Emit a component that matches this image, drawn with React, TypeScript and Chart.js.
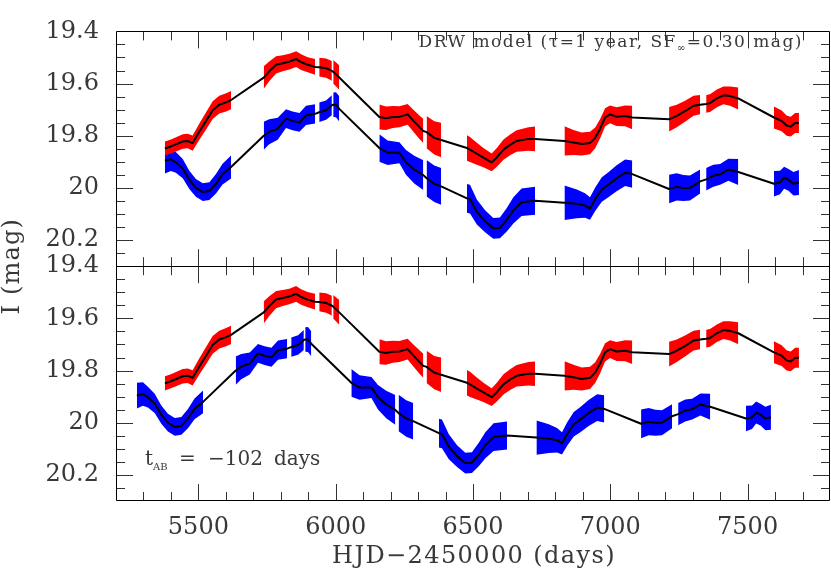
import React, { useEffect, useRef } from 'react';
import { Chart, registerables } from 'chart.js';

Chart.register(...registerables);

// ---------- data ----------
const TAB = -102; // time delay applied to image B in the lower panel (days)
const X_MIN = 5200;
const X_MAX = 7800;
const Y_MIN = 19.4;
const Y_MAX = 20.3;
const X_TICKS = [5500, 6000, 6500, 7000, 7500];
const Y_TICKS = [19.4, 19.6, 19.8, 20, 20.2];

// Image A (red): seasons of [HJD-2450000, I mag (model), half band width]
const SEASONS_A: number[][][] = [
  [[5378, 19.849, 0.027], [5400, 19.841, 0.027], [5443, 19.822, 0.028], [5461, 19.82, 0.028], [5479, 19.828, 0.029], [5503, 19.785, 0.031], [5528, 19.743, 0.033], [5552, 19.702, 0.034], [5576, 19.681, 0.034], [5601, 19.672, 0.035], [5619, 19.663, 0.035]],
  [[5738, 19.577, 0.043], [5758, 19.553, 0.038], [5783, 19.528, 0.033], [5807, 19.522, 0.031], [5831, 19.516, 0.03], [5856, 19.506, 0.03], [5874, 19.518, 0.03], [5898, 19.528, 0.029], [5925, 19.536, 0.03]],
  [[5940, 19.537, 0.036], [5965, 19.541, 0.037], [5986, 19.551, 0.038]],
  [[5991, 19.555, 0.045], [6013, 19.577, 0.047]],
  [[6159, 19.728, 0.048], [6183, 19.733, 0.045], [6208, 19.728, 0.042], [6232, 19.727, 0.04], [6262, 19.718, 0.04], [6280, 19.739, 0.042], [6305, 19.767, 0.045], [6319, 19.782, 0.046]],
  [[6331, 19.786, 0.062], [6359, 19.808, 0.064], [6384, 19.816, 0.066]],
  [[6478, 19.847, 0.049], [6489, 19.853, 0.048], [6514, 19.869, 0.042], [6538, 19.884, 0.037], [6568, 19.902, 0.034], [6586, 19.884, 0.036], [6611, 19.853, 0.039], [6635, 19.835, 0.04], [6659, 19.82, 0.041], [6702, 19.812, 0.045], [6726, 19.812, 0.047]],
  [[6833, 19.82, 0.056], [6866, 19.826, 0.048], [6896, 19.832, 0.044], [6926, 19.828, 0.043], [6945, 19.808, 0.04], [6963, 19.773, 0.037], [6981, 19.73, 0.035], [6999, 19.718, 0.034], [7023, 19.727, 0.036], [7054, 19.724, 0.04], [7080, 19.73, 0.045]],
  [[7214, 19.737, 0.047], [7242, 19.724, 0.043], [7272, 19.706, 0.04], [7303, 19.685, 0.038], [7327, 19.681, 0.037]],
  [[7349, 19.678, 0.034], [7363, 19.675, 0.034], [7388, 19.657, 0.034], [7412, 19.645, 0.034], [7436, 19.648, 0.037], [7466, 19.657, 0.042]],
  [[7596, 19.73, 0.042], [7624, 19.743, 0.04], [7642, 19.761, 0.039], [7657, 19.765, 0.038], [7673, 19.751, 0.038], [7687, 19.751, 0.038]],
];

// Image B (blue): seasons of [HJD-2450000, I mag (model), half band width]
const SEASONS_B: number[][][] = [
  [[5378, 19.896, 0.049], [5400, 19.89, 0.045], [5418, 19.902, 0.04], [5443, 19.926, 0.037], [5467, 19.969, 0.035], [5491, 20.0, 0.034], [5516, 20.016, 0.034], [5540, 20.012, 0.034], [5564, 19.984, 0.037], [5588, 19.947, 0.04], [5619, 19.92, 0.044]],
  [[5738, 19.8, 0.054], [5758, 19.785, 0.048], [5789, 19.773, 0.042], [5819, 19.734, 0.036], [5843, 19.743, 0.036], [5868, 19.749, 0.036], [5892, 19.722, 0.037], [5925, 19.716, 0.037]],
  [[5940, 19.71, 0.037], [5965, 19.702, 0.037], [5986, 19.683, 0.038]],
  [[5991, 19.681, 0.047], [6001, 19.681, 0.048], [6013, 19.697, 0.048]],
  [[6159, 19.847, 0.053], [6189, 19.865, 0.047], [6232, 19.865, 0.04], [6256, 19.902, 0.047], [6286, 19.93, 0.053], [6319, 19.951, 0.057]],
  [[6331, 19.963, 0.07], [6359, 19.984, 0.07], [6384, 19.994, 0.07]],
  [[6478, 20.04, 0.055], [6489, 20.043, 0.055], [6514, 20.092, 0.048], [6544, 20.128, 0.042], [6574, 20.155, 0.04], [6598, 20.153, 0.04], [6623, 20.122, 0.045], [6647, 20.086, 0.05], [6677, 20.055, 0.053], [6726, 20.049, 0.054]],
  [[6833, 20.057, 0.066], [6878, 20.061, 0.055], [6908, 20.067, 0.047], [6926, 20.079, 0.043], [6945, 20.043, 0.045], [6969, 20.006, 0.047], [6993, 19.988, 0.048], [7023, 19.963, 0.05], [7054, 19.942, 0.051], [7080, 19.947, 0.052]],
  [[7214, 20.004, 0.055], [7242, 19.996, 0.052], [7266, 20.0, 0.05], [7290, 20.0, 0.048], [7327, 19.975, 0.046]],
  [[7349, 19.967, 0.043], [7375, 19.953, 0.042], [7400, 19.948, 0.04], [7430, 19.93, 0.042], [7466, 19.939, 0.05]],
  [[7596, 19.984, 0.049], [7618, 19.979, 0.045], [7633, 19.961, 0.042], [7649, 19.969, 0.042], [7667, 19.984, 0.045], [7687, 19.979, 0.048]],
];

const RED = '#ff0000';
const BLUE = '#0000ff';
const FONT = '"DejaVu Serif", "Liberation Serif", serif';
const TEXT_COLOR = '#383838';

function buildDatasets() {
  const ds: any[] = [];
  const addSeries = (seasons: number[][][], shift: number, axis: string, color: string) => {
    seasons.forEach((season) => {
      const upIdx = ds.length;
      ds.push({
        type: 'line',
        yAxisID: axis,
        data: season.map((p) => ({ x: p[0] + shift, y: p[1] - p[2] })),
        borderWidth: 0,
        borderColor: 'rgba(0,0,0,0)',
        pointRadius: 0,
        fill: false,
        order: 2,
      });
      ds.push({
        type: 'line',
        yAxisID: axis,
        data: season.map((p) => ({ x: p[0] + shift, y: p[1] + p[2] })),
        borderWidth: 0,
        borderColor: 'rgba(0,0,0,0)',
        backgroundColor: color,
        pointRadius: 0,
        fill: { target: upIdx },
        order: 2,
      });
    });
    const model: any[] = [];
    seasons.forEach((season) => season.forEach((p) => model.push({ x: p[0] + shift, y: p[1] })));
    ds.push({
      type: 'line',
      yAxisID: axis,
      data: model,
      borderColor: '#000',
      borderWidth: 2,
      borderJoinStyle: 'round',
      pointRadius: 0,
      fill: false,
      order: 0,
    });
  };
  addSeries(SEASONS_A, 0, 'yTop', RED);
  addSeries(SEASONS_B, 0, 'yTop', BLUE);
  addSeries(SEASONS_A, 0, 'yBot', RED);
  addSeries(SEASONS_B, TAB, 'yBot', BLUE);
  return ds;
}

function yScale(weight: number) {
  return {
    type: 'linear',
    position: 'left',
    stack: 'panels',
    stackWeight: 1,
    weight,
    reverse: true,
    min: Y_MIN,
    max: Y_MAX,
    grid: { display: false, drawTicks: false },
    border: { display: false },
    afterBuildTicks: (s: any) => {
      s.ticks = Y_TICKS.map((v) => ({ value: v }));
    },
    afterFit: (s: any) => {
      s.width = 108;
    },
    ticks: {
      autoSkip: false,
      padding: 17,
      color: TEXT_COLOR,
      font: { family: FONT, size: 24 },
      callback: (v: any) => String(Math.round(Number(v) * 10) / 10),
    },
  };
}

function withSpacing(ctx: CanvasRenderingContext2D, px: number) {
  try {
    (ctx as any).letterSpacing = px + 'px';
  } catch (e) {
    /* ignore */
  }
}

const framePlugin = {
  id: 'frameAndText',
  afterDraw(chart: any) {
    const ctx: CanvasRenderingContext2D = chart.ctx;
    const { left, right, top, bottom } = chart.chartArea;
    const xs = chart.scales.x;
    const panels = [chart.scales.yTop, chart.scales.yBot];
    ctx.save();

    // inward ticks
    ctx.strokeStyle = '#333';
    ctx.lineWidth = 1;
    ctx.beginPath();
    panels.forEach((p: any) => {
      for (let k = 1; k < 18; k++) {
        const v = Y_MIN + k * 0.05;
        const len = k % 4 === 0 ? 17 : 9;
        const y = Math.round(p.getPixelForValue(v)) + 0.5;
        ctx.moveTo(left, y);
        ctx.lineTo(left + len, y);
        ctx.moveTo(right, y);
        ctx.lineTo(right - len, y);
      }
      for (let d = X_MIN + 100; d < X_MAX; d += 100) {
        const len = d % 500 === 0 ? 17 : 9;
        const x = Math.round(xs.getPixelForValue(d)) + 0.5;
        ctx.moveTo(x, p.top);
        ctx.lineTo(x, p.top + len);
        ctx.moveTo(x, p.bottom);
        ctx.lineTo(x, p.bottom - len);
      }
    });
    ctx.stroke();

    // frame
    ctx.strokeStyle = '#000';
    ctx.beginPath();
    const l = Math.round(left) + 0.5;
    const r = Math.round(right) - 0.5;
    const t = Math.round(top) + 0.5;
    const b = Math.round(bottom) - 0.5;
    const m = Math.round(panels[0].bottom) + 0.5;
    ctx.rect(l, t, r - l, b - t);
    ctx.moveTo(l, m);
    ctx.lineTo(r, m);
    ctx.stroke();

    // texts
    ctx.fillStyle = TEXT_COLOR;
    // y title
    ctx.save();
    ctx.translate(13, (top + bottom) / 2);
    ctx.rotate(-Math.PI / 2);
    ctx.font = `24px ${FONT}`;
    ctx.textAlign = 'center';
    ctx.textBaseline = 'middle';
    withSpacing(ctx, 1.2);
    ctx.fillText('I (mag)', 0, 0);
    ctx.restore();

    // x title
    ctx.save();
    ctx.font = `24px ${FONT}`;
    ctx.textAlign = 'center';
    ctx.textBaseline = 'middle';
    withSpacing(ctx, 1.4);
    ctx.fillText('HJD\u22122450000 (days)', 474, 557);
    ctx.restore();

    // DRW annotation (right aligned)
    ctx.save();
    withSpacing(ctx, 1.5);
    ctx.textBaseline = 'alphabetic';
    ctx.textAlign = 'left';
    const p1 = 'DRW model (\u03c4=1 year, SF';
    const p2 = '\u221e';
    const p3 = '=0.30 mag)';
    ctx.font = `17px ${FONT}`;
    const w1 = ctx.measureText(p1).width;
    const w3 = ctx.measureText(p3).width;
    ctx.font = `10px ${FONT}`;
    const w2 = ctx.measureText(p2).width;
    const endX = 803;
    const x3 = endX - w3;
    const x2 = x3 - w2;
    const x1 = x2 - w1;
    ctx.font = `17px ${FONT}`;
    ctx.fillText(p1, x1, 47);
    ctx.fillText(p3, x3, 47);
    ctx.font = `10px ${FONT}`;
    ctx.fillText(p2, x2, 51);
    ctx.restore();

    // t_AB annotation
    ctx.save();
    ctx.textBaseline = 'alphabetic';
    ctx.textAlign = 'left';
    ctx.font = `20px ${FONT}`;
    ctx.fillText('t', 145, 465);
    ctx.font = `10px ${FONT}`;
    ctx.fillText('AB', 153, 470);
    ctx.font = `20px ${FONT}`;
    ctx.fillText('=', 179, 465);
    ctx.fillText('\u2212102', 208, 465);
    ctx.fillText('days', 274, 465);
    ctx.restore();

    ctx.restore();
  },
};

export default function App() {
  const ref = useRef<HTMLCanvasElement>(null);
  useEffect(() => {
    const canvas = ref.current;
    if (!canvas) return;
    const chart = new Chart(canvas, {
      type: 'line',
      data: { datasets: buildDatasets() },
      options: {
        responsive: false,
        animation: false,
        devicePixelRatio: 1,
        layout: { padding: { left: 8, right: 1, top: 10, bottom: 0 } },
        plugins: {
          legend: { display: false },
          tooltip: { enabled: false },
          title: { display: false },
        },
        elements: { line: { tension: 0 } },
        scales: {
          x: {
            type: 'linear',
            position: 'bottom',
            min: X_MIN,
            max: X_MAX,
            grid: { display: false, drawTicks: false },
            border: { display: false },
            afterBuildTicks: (s: any) => {
              s.ticks = X_TICKS.map((v) => ({ value: v }));
            },
            afterFit: (s: any) => {
              s.height = 75;
            },
            ticks: {
              autoSkip: false,
              maxRotation: 0,
              minRotation: 0,
              padding: 12,
              color: TEXT_COLOR,
              font: { family: FONT, size: 24 },
              callback: (v: any) => String(v),
            },
          },
          yTop: yScale(1),
          yBot: yScale(0),
        } as any,
      } as any,
      plugins: [framePlugin],
    });
    return () => chart.destroy();
  }, []);
  return (
    <div style={{ position: 'fixed', left: 0, top: 0, width: 831, height: 576, background: '#fff' }}>
      <canvas ref={ref} width={831} height={576} style={{ display: 'block', width: 831, height: 576 }} />
    </div>
  );
}
